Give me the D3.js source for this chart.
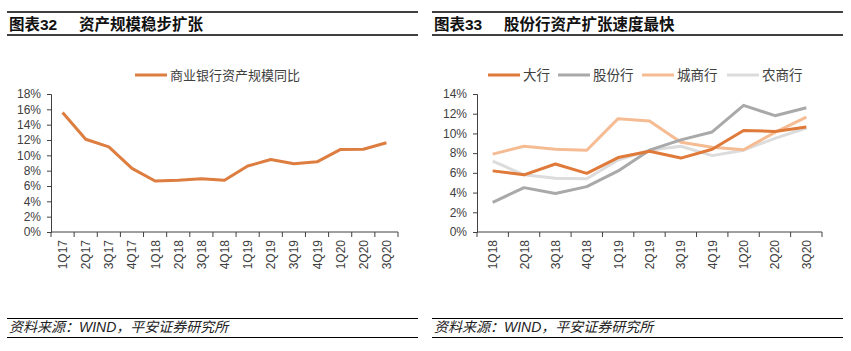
<!DOCTYPE html>
<html><head><meta charset="utf-8">
<script src="https://cdn.jsdelivr.net/npm/d3@7"></script>
<style>
body{margin:0;background:#fff;}
svg{display:block;}
text{font-family:"Liberation Sans",Arial,"Noto Sans CJK SC",sans-serif;fill:#404040;}
.cjk{font-family:"Liberation Sans","Noto Sans CJK SC",sans-serif;}
</style></head><body>
<svg id="c" width="851" height="351"></svg>
<script>
// ---- data ----
const leftCategories = ["1Q17","2Q17","3Q17","4Q17","1Q18","2Q18","3Q18","4Q18","1Q19","2Q19","3Q19","4Q19","1Q20","2Q20","3Q20"];
const leftValues = [15.6,12.1,11.1,8.3,6.65,6.75,6.95,6.75,8.6,9.45,8.9,9.15,10.75,10.8,11.65];
const leftTicks = [0,2,4,6,8,10,12,14,16,18];

const rightCategories = ["1Q18","2Q18","3Q18","4Q18","1Q19","2Q19","3Q19","4Q19","1Q20","2Q20","3Q20"];
const bigBanks   = [6.2,5.8,6.9,5.95,7.55,8.2,7.5,8.4,10.3,10.2,10.65];
const jointStock = [3.0,4.5,3.9,4.6,6.2,8.3,9.35,10.15,12.85,11.8,12.6];
const cityBanks  = [7.9,8.7,8.4,8.3,11.5,11.25,9.1,8.6,8.35,10.1,11.65];
const ruralBanks = [7.2,5.8,5.45,5.4,7.3,8.3,8.7,7.75,8.3,9.5,10.55];
const rightTicks = [0,2,4,6,8,10,12,14];

const svg = d3.select("#c");
const axisColor = "#404040";

function header(x0, x1, num, title){
  svg.append("line").attr("x1",x0).attr("x2",x1).attr("y1",12).attr("y2",12).attr("stroke","#000").attr("stroke-width",1.3);
  svg.append("line").attr("x1",x0).attr("x2",x1).attr("y1",35).attr("y2",35).attr("stroke","#000").attr("stroke-width",1.3);
  svg.append("text").attr("class","cjk").attr("x",x0+2).attr("y",29.5).attr("font-size",15.5).attr("font-weight","bold").style("fill","#111").text(num);
  svg.append("text").attr("class","cjk").attr("x",x0+72).attr("y",29.5).attr("font-size",15.5).attr("font-weight","bold").style("fill","#111").text(title);
  svg.append("line").attr("x1",x0).attr("x2",x1).attr("y1",318.5).attr("y2",318.5).attr("stroke","#000").attr("stroke-width",1.2);
  svg.append("line").attr("x1",x0).attr("x2",x1).attr("y1",337.5).attr("y2",337.5).attr("stroke","#000").attr("stroke-width",1.2);
  svg.append("text").attr("class","cjk").attr("x",x0+2).attr("y",332).attr("font-size",14).attr("font-style","italic").style("fill","#222").text("资料来源：WIND，平安证券研究所");
}

header(7,418,"图表32","资产规模稳步扩张");
header(432,843,"图表33","股份行资产扩张速度最快");

function drawAxes(g, x, y, ticks, cats, x0, x1, y0){
  // y axis
  const ya = g.append("g").attr("transform",`translate(${x0},0)`)
    .call(d3.axisLeft(y).tickValues(ticks).tickSize(4).tickPadding(6).tickFormat(d=>d+"%"));
  ya.select(".domain").attr("stroke",axisColor);
  ya.selectAll(".tick line").attr("stroke",axisColor);
  ya.selectAll("text").attr("font-size",12).style("fill","#404040").attr("font-family","Liberation Sans, Arial, sans-serif");
  // x axis line + ticks at boundaries
  g.append("line").attr("x1",x0).attr("x2",x1).attr("y1",y0).attr("y2",y0).attr("stroke",axisColor);
  const bounds = cats.map(c=>x(c)).concat([x1]);
  g.selectAll(".bt").data(bounds).enter().append("line")
    .attr("x1",d=>d).attr("x2",d=>d).attr("y1",y0).attr("y2",y0+5).attr("stroke",axisColor);
  g.selectAll(".xl").data(cats).enter().append("text")
    .attr("transform",d=>`translate(${x(d)+x.bandwidth()/2+4.5},${y0+8}) rotate(-90)`)
    .attr("text-anchor","end").attr("font-size",12).style("fill","#404040").text(d=>d);
}

// ---- left chart ----
{
  const x0=51, x1=398, y0=232, yTop=94;
  const x = d3.scaleBand().domain(leftCategories).range([x0,x1]);
  const y = d3.scaleLinear().domain([0,18]).range([y0,yTop]);
  const g = svg.append("g");
  drawAxes(g,x,y,leftTicks,leftCategories,x0,x1,y0);
  const line = d3.line().x((d,i)=>x(leftCategories[i])+x.bandwidth()/2).y(d=>y(d));
  g.append("path").datum(leftValues).attr("d",line).attr("fill","none").attr("stroke","#DD7D40").attr("stroke-width",3).attr("stroke-linejoin","round");
  g.append("line").attr("x1",135).attr("x2",167).attr("y1",75).attr("y2",75).attr("stroke","#DD7D40").attr("stroke-width",3);
  g.append("text").attr("class","cjk").attr("x",170).attr("y",80).attr("font-size",13).style("fill","#404040").text("商业银行资产规模同比");
}

// ---- right chart ----
{
  const x0=477, x1=822, y0=232, yTop=94;
  const x = d3.scaleBand().domain(rightCategories).range([x0,x1]);
  const y = d3.scaleLinear().domain([0,14]).range([y0,yTop]);
  const g = svg.append("g");
  drawAxes(g,x,y,rightTicks,rightCategories,x0,x1,y0);
  const series = [
    {name:"农商行", values:ruralBanks, color:"#DCDCDC", lx:727},
    {name:"城商行", values:cityBanks, color:"#F5BC93", lx:642},
    {name:"股份行", values:jointStock, color:"#A9A9A9", lx:558},
    {name:"大行", values:bigBanks, color:"#DF7A3A", lx:488}
  ];
  const line = d3.line().x((d,i)=>x(rightCategories[i])+x.bandwidth()/2).y(d=>y(d));
  series.forEach(s=>{
    g.append("path").datum(s.values).attr("d",line).attr("fill","none").attr("stroke",s.color).attr("stroke-width",3).attr("stroke-linejoin","round");
  });
  series.slice().reverse().forEach(s=>{
    g.append("line").attr("x1",s.lx).attr("x2",s.lx+32).attr("y1",75).attr("y2",75).attr("stroke",s.color).attr("stroke-width",3);
    g.append("text").attr("class","cjk").attr("x",s.lx+35).attr("y",80).attr("font-size",13.5).style("fill","#404040").text(s.name);
  });
}
</script>
</body></html>
